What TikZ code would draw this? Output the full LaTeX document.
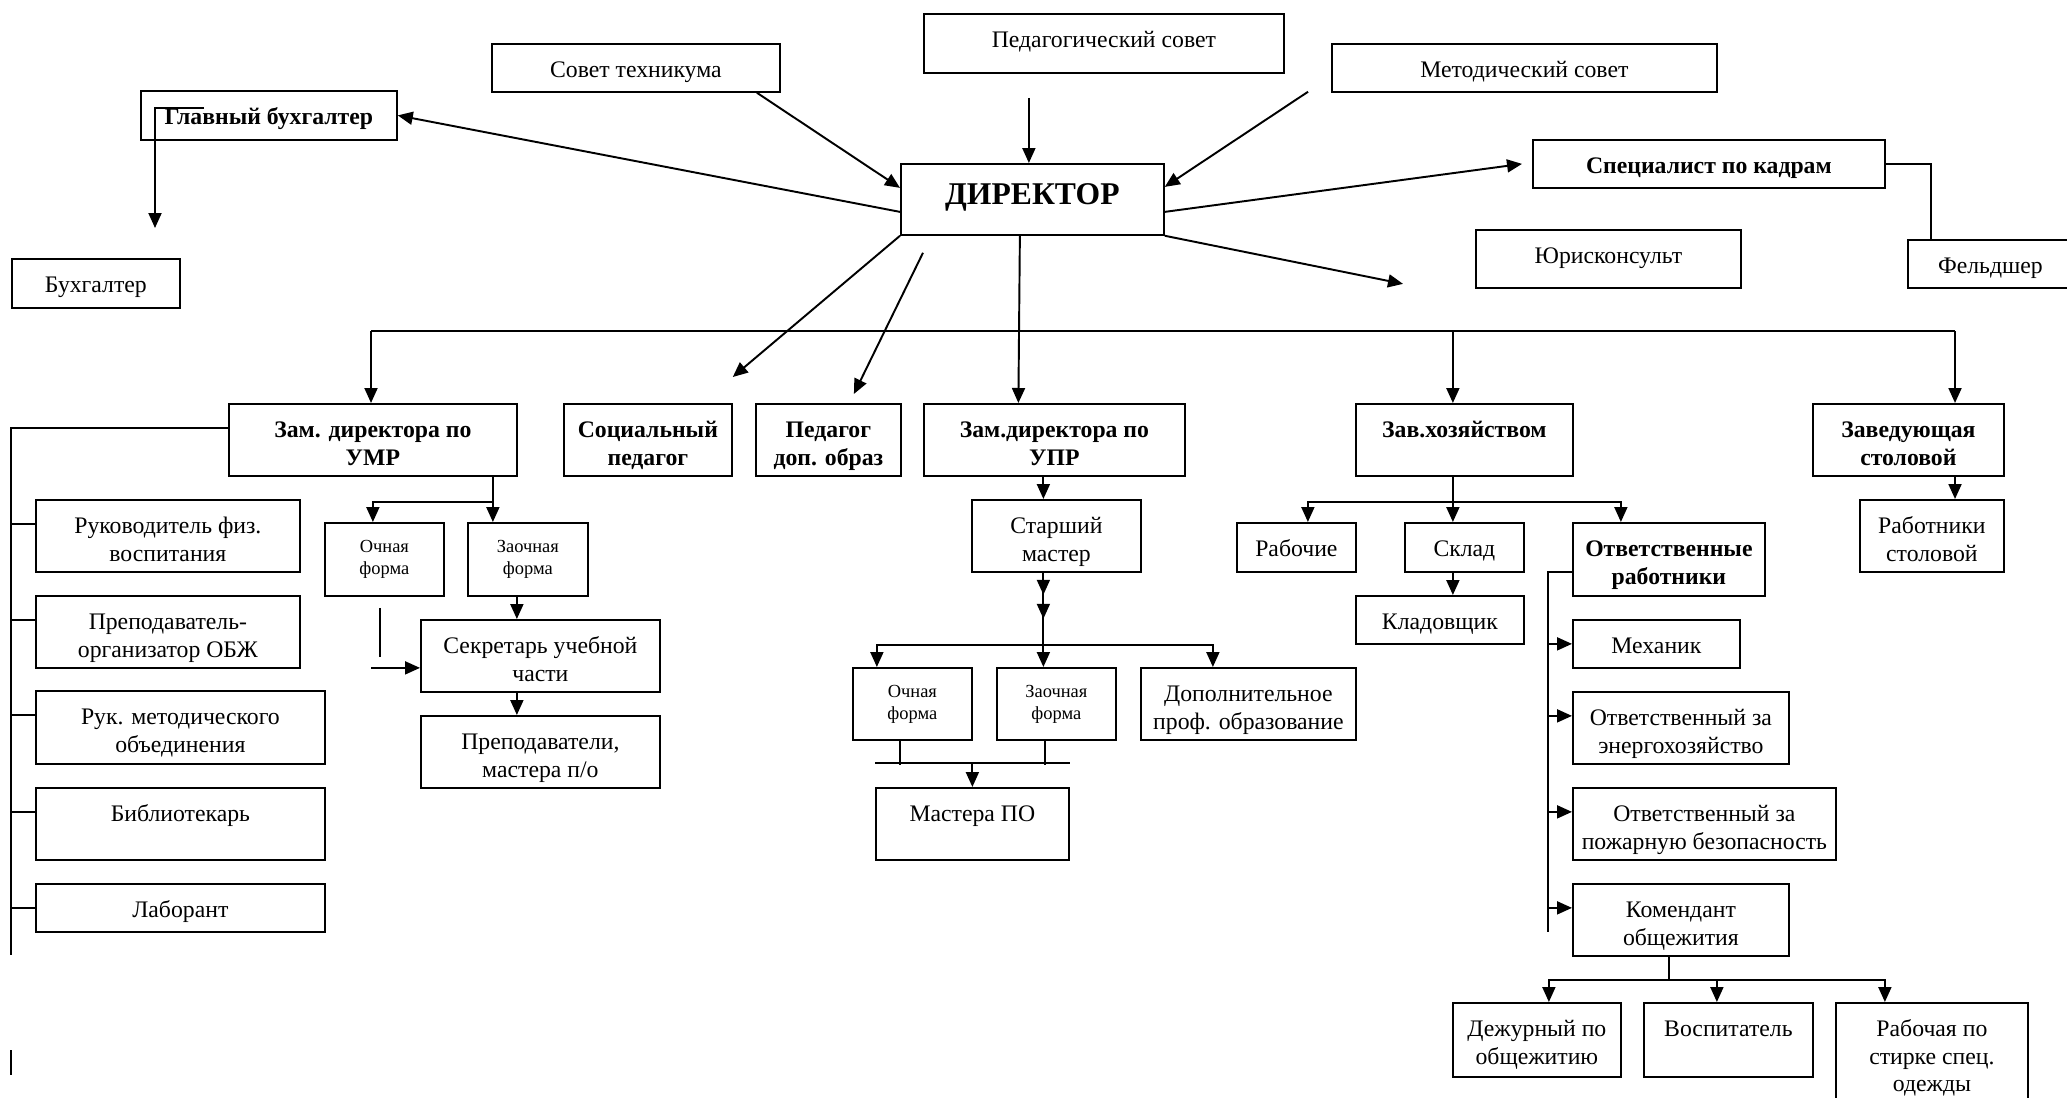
\documentclass[tikz,border=0pt]{standalone}
\usepackage{fontspec}
\setmainfont{Liberation Serif}
\usetikzlibrary{arrows.meta,calc}

\newlength{\pxu}
\setlength{\pxu}{0.2mm}
% box: [strut] name, x, y (top left), width, height, text
\newcommand{\orgbox}[7][19.3pt]{%
  \node[box] (#2) at (#3,#4)
    {\parbox[t][#6\pxu][t]{#5\pxu}{\centering\rule{0pt}{#1}#7\par}};}
\newcommand{\smallf}{\fontsize{10.5}{12.5}\selectfont}

\tikzset{
  box/.style={draw, line width=1pt, inner sep=0pt, anchor=north west,
    font=\fontsize{13.5}{15.5}\selectfont},
  ln/.style={line width=1.1pt},
  arr/.style={ln, -{Triangle[length=3mm,width=2.6mm]}},
}

\begin{document}
\begin{tikzpicture}[x=0.2mm, y=-0.2mm]
  \useasboundingbox (0,0) rectangle (2067,1097);
  \clip (0,0) rectangle (2067,1097);

  % top row
  \orgbox{gbuh}{140}{90}{256}{49}{\textbf{Главный бухгалтер}}
  \orgbox{buh}{11}{258}{168}{49}{Бухгалтер}
  \orgbox{sovet}{491}{43}{288}{48}{Совет техникума}
  \orgbox{ped}{923}{13}{360}{59}{Педагогический совет}
  \orgbox{metod}{1331}{43}{385}{48}{Методический совет}
  \orgbox[23pt]{dir}{900}{163}{263}{71}{\fontsize{18}{20}\selectfont\bfseries ДИРЕКТОР}
  \orgbox{kadry}{1532}{139}{352}{48}{\textbf{Специалист по кадрам}}
  \orgbox{jur}{1475}{229}{265}{58}{Юрисконсульт}
  \orgbox{feld}{1907}{239}{165}{48}{Фельдшер}

  % second row
  \orgbox{umr}{228}{403}{288}{72}{\textbf{Зам. директора по\\УМР}}
  \orgbox{soc}{563}{403}{168}{72}{\textbf{Социальный\\педагог}}
  \orgbox{pdo}{755}{403}{145}{72}{\textbf{Педагог\\доп. образ}}
  \orgbox{upr}{923}{403}{261}{72}{\textbf{Зам.директора по\\УПР}}
  \orgbox{zavhoz}{1355}{403}{217}{72}{\textbf{Зав.хозяйством}}
  \orgbox{stol}{1812}{403}{191}{72}{\textbf{Заведующая\\столовой}}

  % UMR
  \orgbox{fiz}{35}{499}{264}{72}{Руководитель физ.\\воспитания}
  \orgbox{obzh}{35}{595}{264}{72}{Преподаватель-\\организатор ОБЖ}
  \orgbox{metob}{35}{690}{289}{73}{Рук. методического\\объединения}
  \orgbox{bibl}{35}{787}{289}{72}{Библиотекарь}
  \orgbox{lab}{35}{883}{289}{48}{Лаборант}
  \orgbox[17pt]{och1}{324}{522}{119}{73}{\smallf Очная\\форма}
  \orgbox[17pt]{zaoch1}{467}{522}{120}{73}{\smallf Заочная\\форма}
  \orgbox{sekr}{420}{619}{239}{72}{Секретарь учебной\\части}
  \orgbox{prep}{420}{715}{239}{72}{Преподаватели,\\мастера п/о}

  % UPR
  \orgbox{stm}{971}{499}{169}{72}{Старший\\мастер}
  \orgbox[17pt]{och2}{852}{667}{119}{72}{\smallf Очная\\форма}
  \orgbox[17pt]{zaoch2}{996}{667}{119}{72}{\smallf Заочная\\форма}
  \orgbox{dop}{1140}{667}{215}{72}{Дополнительное\\проф. образование}
  \orgbox{mpo}{875}{787}{193}{72}{Мастера ПО}

  % hozyaistvo
  \orgbox{rab}{1236}{522}{119}{49}{Рабочие}
  \orgbox{sklad}{1404}{522}{119}{49}{Склад}
  \orgbox{klad}{1355}{595}{168}{48}{Кладовщик}
  \orgbox{otv}{1572}{522}{192}{73}{\textbf{Ответственные\\работники}}
  \orgbox{mech}{1572}{619}{167}{48}{Механик}
  \orgbox{energ}{1572}{691}{216}{72}{Ответственный за\\энергохозяйство}
  \orgbox{pozh}{1572}{787}{263}{72}{Ответственный за\\пожарную безопасность}
  \orgbox{kom}{1572}{883}{216}{72}{Комендант\\общежития}
  \orgbox{dezh}{1452}{1002}{168}{74}{Дежурный по\\общежитию}
  \orgbox{vosp}{1643}{1002}{169}{74}{Воспитатель}
  \orgbox{stirka}{1835}{1002}{192}{110}{Рабочая по\\стирке спец.\\одежды}
  \orgbox{rstol}{1859}{499}{144}{72}{Работники\\столовой}

  % director links
  \draw[arr] ($(dir.west)+(0,12.5)$) -- (gbuh.east);
  \draw[arr] ($(sovet.south)+(121,0)$) -- ($(dir.west)+(0,-11.5)$);
  \draw[arr] ($(dir.north)+(-3.5,-65)$) -- ($(dir.north)+(-3.5,0)$);
  \draw[arr] ($(metod.south west)+(-23,-1)$) -- ($(dir.east)+(0,-12.5)$);
  \draw[arr] ($(dir.east)+(0,12.5)$) -- ($(kadry.west)+(-10,0)$);
  \draw[arr] (dir.south east) -- ($(jur.west)+(-72,25)$);
  \draw[arr] (dir.south west) -- ($(soc.north east)+(0,-26)$);
  \draw[arr] ($(dir.south west)+(23,17)$) -- ($(pdo.north)+(25.5,-9)$);
  \draw[arr] ($(dir.south)+(-12.5,0)$) -- ($(upr.north)+(-36,0)$);
  \draw[arr] ($(gbuh.north west)+(64,18)$) -- ++(-49,0) -- ++(0,120);
  \draw[ln] (kadry.east) -| ($(feld.north west)+(24,0)$);

  % main bus
  \coordinate (busl) at (371,331);
  \coordinate (busr) at (1955,331);
  \draw[ln] (busl) -- (busr);
  \draw[arr] (busl) -- (busl |- umr.north);
  \draw[arr] ($(zavhoz.north)+(-11.5,-72)$) -- ($(zavhoz.north)+(-11.5,0)$);
  \draw[arr] (busr) -- (busr |- stol.north);
  \draw[arr] (busr |- stol.south) -- (busr |- rstol.north);

  % UMR left line
  \coordinate (lbus) at (11,955);
  \draw[ln] ($(umr.west)+(0,-12)$) -| (lbus);
  \draw[ln] ($(lbus)+(0,95)$) -- ++(0,25);
  \foreach \b in {fiz,obzh,metob,bibl}
    \draw[ln] ($(\b.west)+(0,-12)$) -- ++(-24,0);
  \draw[ln] (lab.west) -- ++(-24,0);

  % UMR forms
  \coordinate (umrj) at ($(umr.south)+(120,25)$);
  \draw[ln] (umrj |- umr.south) -- (umrj);
  \draw[arr] (umrj) -| (umr.south |- och1.north);
  \draw[arr] (umrj) -- (umrj |- zaoch1.north);
  \coordinate (sx) at ($(zaoch1.south)+(-11,0)$);
  \draw[arr] (sx) -- (sx |- sekr.north);
  \draw[arr] (sx |- sekr.south) -- (sx |- prep.north);
  \draw[ln] ($(och1.south)+(-4.5,11)$) -- ++(0,49);
  \draw[arr] ($(sekr.west)+(-49,12)$) -- ($(sekr.west)+(0,12)$);

  % UPR
  \coordinate (ux) at ($(upr.south)+(-11,0)$);
  \coordinate (ubus) at ($(ux |- stm.south)+(0,72)$);
  \draw[arr] (ux) -- (ux |- stm.north);
  \draw[ln] (ux |- stm.south) -- (ubus);
  \draw[arr] (ux |- stm.south) -- ++(0,22);
  \draw[arr] ($(ux |- stm.south)+(0,22)$) -- ++(0,24);
  \draw[arr] (ubus) -| ($(och2.north)+(-35.5,0)$);
  \draw[arr] (ubus) -| ($(dop.north)+(-35.5,0)$);
  \draw[arr] (ubus) -- (ubus |- zaoch2.north);
  \draw[ln] ($(mpo.north west)+(0,-24)$) -- ($(mpo.north east)+(0,-24)$);
  \draw[ln] ($(och2.south)+(-12.5,0)$) -- ++(0,24);
  \draw[ln] ($(zaoch2.south)+(-11.5,0)$) -- ++(0,24);
  \draw[arr] ($(mpo.north)+(0,-24)$) -- (mpo.north);

  % zav. hoz
  \coordinate (zx) at ($(zavhoz.south)+(-11.5,0)$);
  \coordinate (zbus) at ($(zx)+(0,25)$);
  \draw[ln] (zx) -- (zbus);
  \draw[arr] (zbus) -| ($(rab.north)+(11.5,0)$);
  \draw[arr] (zbus) -- (zbus |- sklad.north);
  \draw[arr] (zbus) -| ($(otv.north)+(-48,0)$);
  \draw[arr] (zx |- sklad.south) -- (zx |- klad.north);

  % responsible staff
  \coordinate (ox) at ($(otv.south west)+(-24,-25)$);
  \draw[ln] ($(otv.south west)+(0,-25)$) -- (ox) -- ++(0,360);
  \draw[arr] ($(mech.west)+(-24,0)$) -- (mech.west);
  \foreach \b in {energ,pozh,kom}
    \draw[arr] ($(\b.west)+(-24,-12)$) -- ($(\b.west)+(0,-12)$);

  % komendant
  \coordinate (kx) at ($(kom.south)+(-12,0)$);
  \coordinate (kbus) at ($(kx)+(0,23)$);
  \draw[ln] (kx) -- (kbus);
  \draw[arr] (kbus) -| ($(dezh.north)+(12,0)$);
  \draw[arr] (kbus) -| ($(vosp.north)+(-11.5,0)$);
  \draw[arr] (kbus) -| ($(stirka.north)+(-47,0)$);
\end{tikzpicture}
\end{document}
